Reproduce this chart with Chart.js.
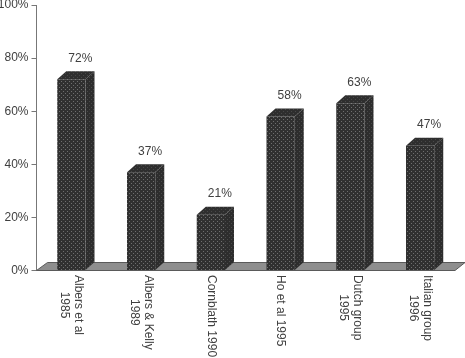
<!DOCTYPE html>
<html>
<head>
<meta charset="utf-8">
<script src="https://cdn.jsdelivr.net/npm/chart.js@4"></script>
<style>html,body{margin:0;padding:0;background:#fff}canvas{display:block}</style>
</head>
<body>
<canvas id="c" width="465" height="358"></canvas>
<script>
const categories = [["Albers et al","1985"],["Albers & Kelly","1989"],["Cornblath 1990"],["Ho et al 1995"],["Dutch group","1995"],["Italian group","1996"]];
const values = [72,37,21,58,63,47];
const yTicks = [0,20,40,60,80,100];

const FONT = '"Liberation Sans", Arial, sans-serif';
const TEXT = '#3f3f3f';
const DX = 9, DY = 8;

function tile(bg, dot){
  const size = 4;
  const t = document.createElement('canvas');
  t.width = t.height = size;
  const g = t.getContext('2d');
  g.fillStyle = bg; g.fillRect(0,0,size,size);
  g.fillStyle = dot;
  g.fillRect(1,1,1,1); g.fillRect(3,3,1,1);
  return g.createPattern(t,'repeat');
}
const frontFill = tile('#303030','#6e6e6e');
const sideFill = tile('#2d2d2d','#4a4a4a');
const topFill = tile('#2e2e2e','#484848');

const floor = {
  id:'floor',
  beforeDatasetsDraw(chart){
    const {ctx, chartArea:a} = chart;
    const base = chart.scales.y.getPixelForValue(0);
    ctx.save();
    ctx.beginPath();
    ctx.moveTo(a.left, base);
    ctx.lineTo(a.left+DX+2, base-DY);
    ctx.lineTo(a.right+DX+1, base-DY);
    ctx.lineTo(a.right, base);
    ctx.closePath();
    ctx.fillStyle = '#8e8e8e'; ctx.fill();
    ctx.strokeStyle = '#5a5a5a'; ctx.lineWidth = 1; ctx.stroke();
    ctx.restore();
  }
};

const depth = {
  id:'depth',
  afterDatasetsDraw(chart){
    const {ctx} = chart;
    ctx.save();
    chart.getDatasetMeta(0).data.forEach((bar,i)=>{
      const p = bar.getProps(['x','y','base','width'],true);
      const l = p.x-p.width/2, r = p.x+p.width/2;
      ctx.fillStyle = sideFill;
      ctx.beginPath();
      ctx.moveTo(r,p.y); ctx.lineTo(r+DX,p.y-DY); ctx.lineTo(r+DX,p.base-DY); ctx.lineTo(r,p.base);
      ctx.closePath(); ctx.fill();
      ctx.fillStyle = topFill;
      ctx.beginPath();
      ctx.moveTo(l,p.y); ctx.lineTo(l+DX,p.y-DY); ctx.lineTo(r+DX,p.y-DY); ctx.lineTo(r,p.y);
      ctx.closePath(); ctx.fill();
      ctx.fillStyle = TEXT;
      ctx.font = '12px '+FONT;
      ctx.textAlign = 'center'; ctx.textBaseline = 'middle';
      ctx.fillText(values[i]+'%', p.x+DX, p.y-21);
    });
    // category labels, rotated clockwise, first line on the right
    const xs = chart.scales.x;
    ctx.font = '12px '+FONT;
    ctx.fillStyle = TEXT;
    categories.forEach((lines,i)=>{
      const widest = Math.max(...lines.map(s=>ctx.measureText(s).width));
      const cx = xs.getPixelForValue(i);
      const startY = 275;
      ctx.save();
      ctx.translate(cx, startY+widest/2);
      ctx.rotate(Math.PI/2);
      ctx.textAlign='center'; ctx.textBaseline='middle';
      lines.forEach((s,k)=>{
        const off = (k-(lines.length-1)/2)*14;
        ctx.fillText(s, 0, off);
      });
      ctx.restore();
    });
    ctx.restore();
  }
};

new Chart(document.getElementById('c'),{
  type:'bar',
  data:{labels:categories,datasets:[{data:values,backgroundColor:frontFill,borderWidth:0,barPercentage:0.405,categoryPercentage:1}]},
  plugins:[floor,depth],
  options:{
    responsive:false,animation:false,
    layout:{padding:{top:5,right:10,left:0,bottom:0}},
    plugins:{legend:{display:false},tooltip:{enabled:false},title:{display:false}},
    scales:{
      x:{
        grid:{display:false},border:{display:false},
        ticks:{display:false},
        afterFit(s){s.height=87.5;}
      },
      y:{
        min:0,max:100,
        afterBuildTicks(s){s.ticks=yTicks.map(v=>({value:v}));},
        afterFit(s){s.width=36.5;s.paddingTop=0;s.paddingBottom=0;},
        grid:{drawOnChartArea:false,drawTicks:true,tickLength:5,color:'#777'},
        border:{display:true,color:'#777',width:1},
        ticks:{padding:3,color:TEXT,font:{family:FONT,size:12},callback:v=>v+'%'}
      }
    }
  }
});
</script>
</body>
</html>
